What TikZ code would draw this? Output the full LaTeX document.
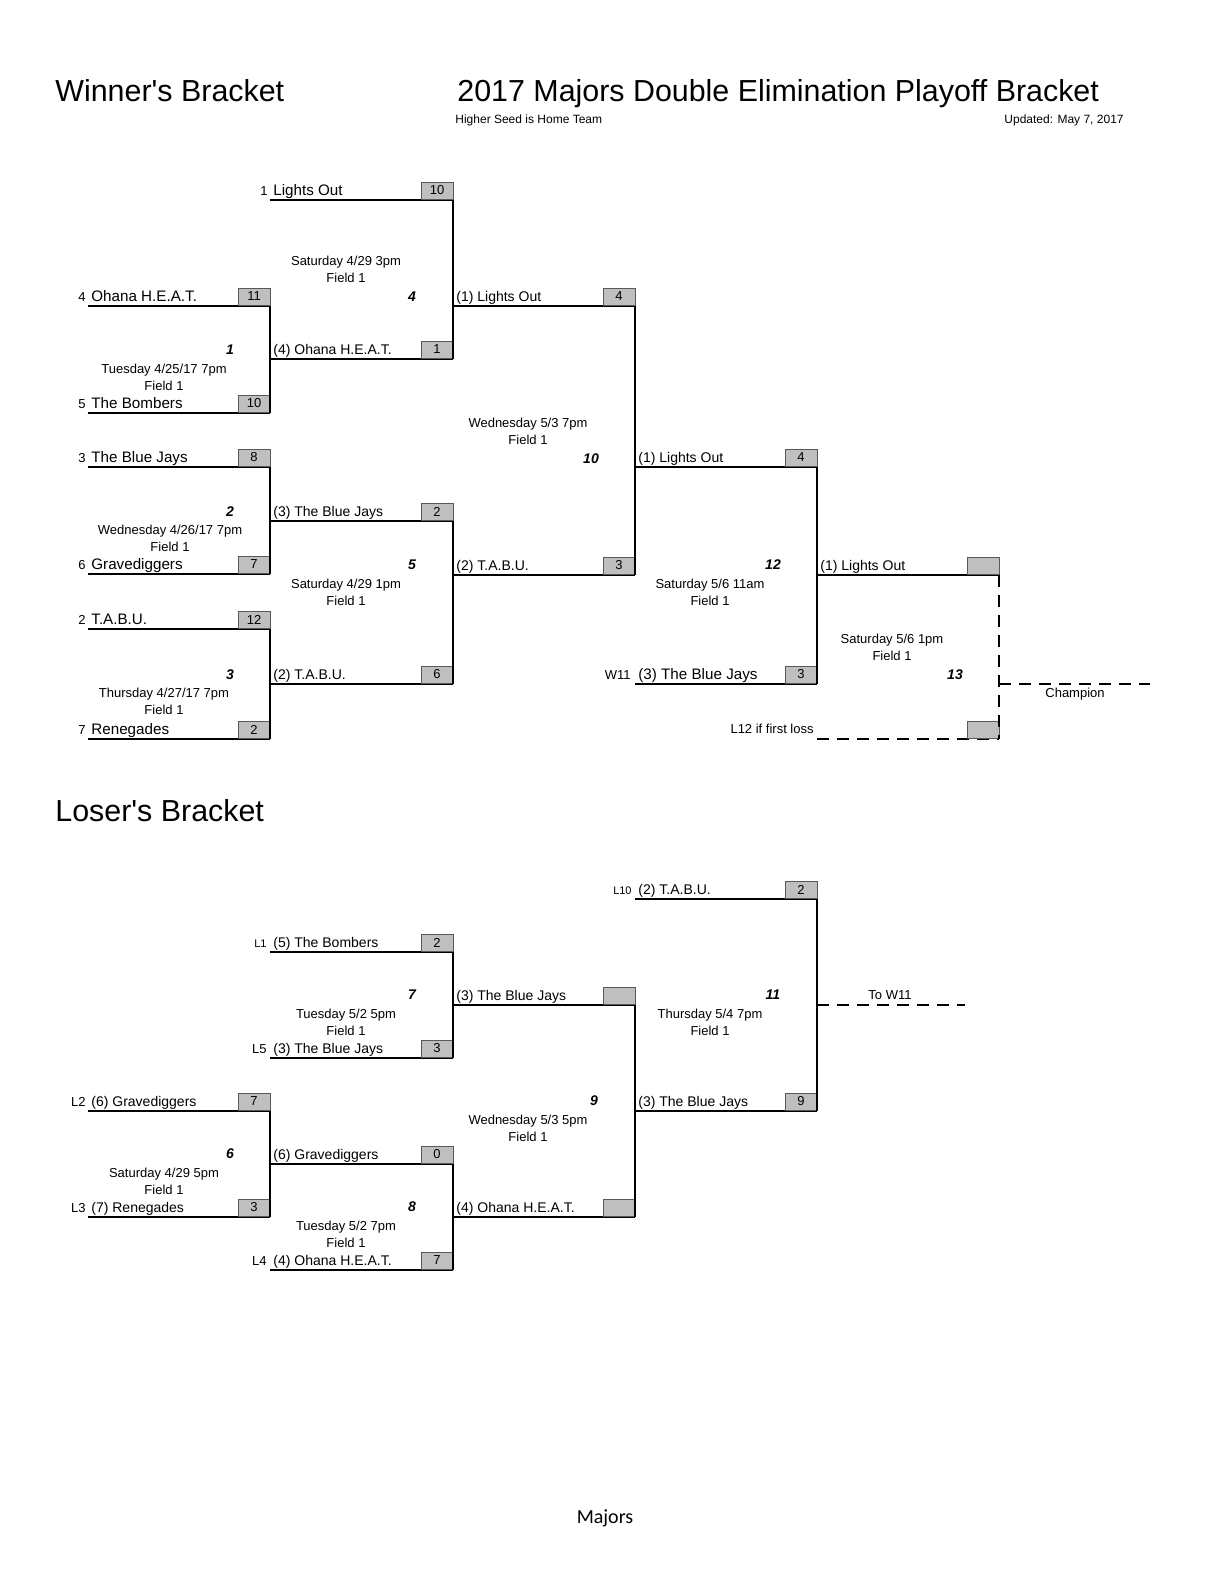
\documentclass[tikz,border=0pt]{standalone}
\usepackage{fontspec}
\setmainfont{Liberation Sans}
\newfontfamily\tfont{Liberation Sans}
\newfontfamily\calib{Carlito}
\tikzset{
 ln/.style={line width=1.1pt},
 dl/.style={line width=1.1pt,dashed,dash pattern=on 6pt off 4pt},
 sbox/.style={draw=gray!70!black,line width=0.3pt,fill=gray!50},
 tm/.style={anchor=base west,inner sep=0pt,font=\fontsize{7}{8}\selectfont},
 tmb/.style={anchor=base west,inner sep=0pt,font=\fontsize{7.6}{9}\selectfont},
 pre/.style={anchor=base east,inner sep=0pt,font=\fontsize{6.5}{8}\selectfont},
 sc/.style={inner sep=0pt,font=\fontsize{6.5}{8}\selectfont},
 info/.style={anchor=base,inner sep=0pt,font=\fontsize{6.5}{8}\selectfont},
 gno/.style={anchor=base,inner sep=0pt,font=\fontsize{7}{8}\selectfont\bfseries\itshape},
 ttl/.style={anchor=base west,inner sep=0pt,font=\tfont\fontsize{15.2}{18}\selectfont},
}
\newcommand\slot[7]{%
 \coordinate (#1a) at (#2,#4); \coordinate (#1b) at (#3,#4);
 \draw[ln] (#1a) -- (#1b);
 \draw[sbox] (#3-32,#4-18) rectangle (#3,#4-1);
 \node[sc] (#1s) at (#3-16,#4-9.5) {#6};
 \node[#7] (#1t) at (#2+3,#4-5) {#5};}
\newcommand\game[7]{%
 \node[gno] at (#1,#2) {#3};
 \node[info] at (#4,#5) {#6};
 \node[info] at (#4,#5+17) {#7};}
\begin{document}
\begin{tikzpicture}[x=0.5pt,y=-0.5pt]
\useasboundingbox (0,0) rectangle (1224,1584);
\node[ttl] (t1) at (55,102) {Winner's Bracket};
\node[ttl] (t2) at (457,102) {2017 Majors Double Elimination Playoff Bracket};
\node[anchor=base west,inner sep=0pt,font=\fontsize{6}{7}\selectfont] (t3) at (455,124) {Higher Seed is Home Team};
\node[anchor=base east,inner sep=0pt,font=\fontsize{6}{7}\selectfont] (t4) at (1124,124) {Updated: May 7, 2017};
\node[ttl] (t5) at (55,821) {Loser's Bracket};
\node[anchor=base,inner sep=0pt,font=\calib\fontsize{10}{12}\selectfont] (t6) at (605,1523) {Majors};
% winners
\slot{a}{270}{453}{200}{Lights Out}{10}{tmb} \node[pre] at (268,195) {1};
\slot{b}{88}{270}{306}{Ohana H.E.A.T.}{11}{tmb} \node[pre] at (86,301) {4};
\slot{c}{88}{270}{413}{The Bombers}{10}{tmb} \node[pre] at (86,408) {5};
\draw[ln] (bb) -- (cb);
\game{230}{354}{1}{164}{373}{Tuesday 4/25/17 7pm}{Field 1}
\slot{d}{270}{453}{359}{(4) Ohana H.E.A.T.}{1}{tm}
\draw[ln] (ab) -- (db);
\game{412}{301}{4}{346}{265}{Saturday 4/29 3pm}{Field 1}
\slot{e}{88}{270}{467}{The Blue Jays}{8}{tmb} \node[pre] at (86,462) {3};
\slot{f}{88}{270}{574}{Gravediggers}{7}{tmb} \node[pre] at (86,569) {6};
\draw[ln] (eb) -- (fb);
\game{230}{516}{2}{170}{534}{Wednesday 4/26/17 7pm}{Field 1}
\slot{g}{270}{453}{521}{(3) The Blue Jays}{2}{tm}
\slot{h}{88}{270}{629}{T.A.B.U.}{12}{tmb} \node[pre] at (86,624) {2};
\slot{i}{88}{270}{739}{Renegades}{2}{tmb} \node[pre] at (86,734) {7};
\draw[ln] (hb) -- (ib);
\game{230}{679}{3}{164}{697}{Thursday 4/27/17 7pm}{Field 1}
\slot{j}{270}{453}{684}{(2) T.A.B.U.}{6}{tm}
\draw[ln] (gb) -- (jb);
\game{412}{569}{5}{346}{588}{Saturday 4/29 1pm}{Field 1}
\slot{k}{453}{635}{306}{(1) Lights Out}{4}{tm}
\slot{l}{453}{635}{575}{(2) T.A.B.U.}{3}{tm}
\draw[ln] (kb) -- (lb);
\game{591}{463}{10}{528}{427}{Wednesday 5/3 7pm}{Field 1}
\slot{m}{635}{817}{467}{(1) Lights Out}{4}{tm}
\slot{n}{635}{817}{684}{(3) The Blue Jays}{3}{tmb} \node[pre] at (631,679) {W11};
\draw[ln] (mb) -- (nb);
\game{773}{569}{12}{710}{588}{Saturday 5/6 11am}{Field 1}
\slot{o}{817}{999}{575}{(1) Lights Out}{}{tm}
\coordinate (pa) at (817,739); \coordinate (pb) at (999,739);
\draw[dl] (pa) -- (pb);
\draw[sbox] (967,721) rectangle (999,738);
\node[pre] at (814,733) {L12 if first loss};
\draw[dl] (ob) -- (pb);
\game{955}{679}{13}{892}{643}{Saturday 5/6 1pm}{Field 1}
\coordinate (ch1) at (999,684); \coordinate (ch2) at (1150,684);
\draw[dl] (ch1) -- (ch2);
\node[info] at (1075,697) {Champion};
% losers
\slot{q}{635}{817}{899}{(2) T.A.B.U.}{2}{tm} \node[pre,font=\fontsize{5.5}{7}\selectfont] at (632,894) {L10};
\slot{r}{270}{453}{952}{(5) The Bombers}{2}{tm} \node[pre,font=\fontsize{5.5}{7}\selectfont] at (267,947) {L1};
\slot{s}{270}{453}{1058}{(3) The Blue Jays}{3}{tm} \node[pre] at (267,1053) {L5};
\draw[ln] (rb) -- (sb);
\game{412}{999}{7}{346}{1018}{Tuesday 5/2 5pm}{Field 1}
\slot{t}{453}{635}{1005}{(3) The Blue Jays}{}{tm}
\slot{u}{88}{270}{1111}{(6) Gravediggers}{7}{tm} \node[pre] at (86,1106) {L2};
\slot{v}{88}{270}{1217}{(7) Renegades}{3}{tm} \node[pre] at (86,1212) {L3};
\draw[ln] (ub) -- (vb);
\game{230}{1158}{6}{164}{1177}{Saturday 4/29 5pm}{Field 1}
\slot{w}{270}{453}{1164}{(6) Gravediggers}{0}{tm}
\slot{x}{270}{453}{1270}{(4) Ohana H.E.A.T.}{7}{tm} \node[pre] at (267,1265) {L4};
\draw[ln] (wb) -- (xb);
\game{412}{1211}{8}{346}{1230}{Tuesday 5/2 7pm}{Field 1}
\slot{y}{453}{635}{1217}{(4) Ohana H.E.A.T.}{}{tm}
\draw[ln] (tb) -- (yb);
\game{594}{1105}{9}{528}{1124}{Wednesday 5/3 5pm}{Field 1}
\slot{z}{635}{817}{1111}{(3) The Blue Jays}{9}{tm}
\draw[ln] (qb) -- (zb);
\game{773}{999}{11}{710}{1018}{Thursday 5/4 7pm}{Field 1}
\coordinate (w1) at (817,1005); \coordinate (w2) at (965,1005);
\draw[dl] (w1) -- (w2);
\node[info] at (890,999) {To W11};
\end{tikzpicture}
\end{document}
